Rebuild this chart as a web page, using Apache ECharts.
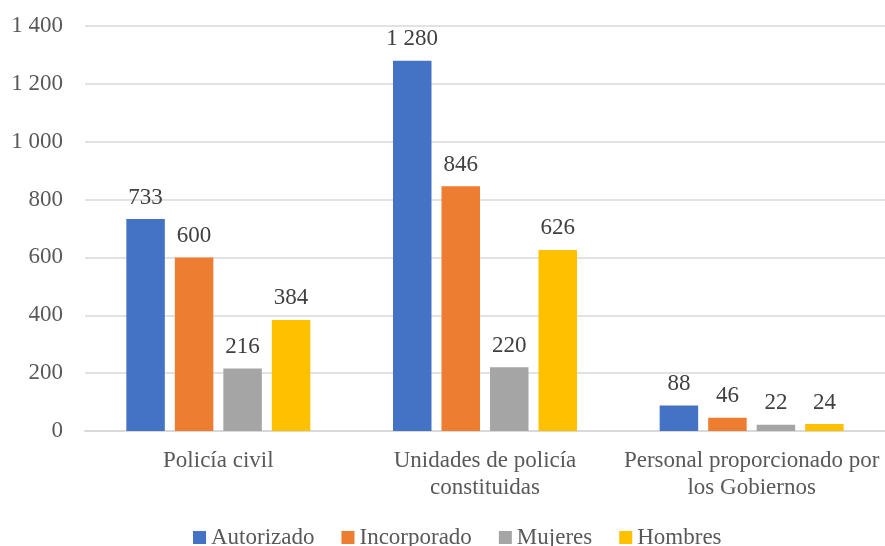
<!DOCTYPE html>
<html><head><meta charset="utf-8">
<script src="https://cdn.jsdelivr.net/npm/echarts@6/dist/echarts.min.js"></script>
<style>html,body{margin:0;padding:0;background:#fff}#c{width:885px;height:546px}</style>
</head><body><div id="c"></div>
<script>
const categories = ['Policía civil', 'Unidades de policía\nconstituidas', 'Personal proporcionado por\nlos Gobiernos'];
const seriesNames = ['Autorizado', 'Incorporado', 'Mujeres', 'Hombres'];
const autorizado = [733, 1280, 88];
const incorporado = [600, 846, 46];
const mujeres = [216, 220, 22];
const hombres = [384, 626, 24];
const colors = ['#4472C4', '#ED7D31', '#A5A5A5', '#FFC000'];
const values = [autorizado, incorporado, mujeres, hombres];
const fmt = v => String(v).replace(/\B(?=(\d{3})+(?!\d))/g, ' ');
const font = 'Liberation Serif';
const chart = echarts.init(document.getElementById('c'));
chart.setOption({
  animation: false,
  textStyle: { fontFamily: font },
  grid: { left: 85, right: 0, top: 26, bottom: 115, containLabel: false },
  legend: {
    bottom: -3, left: 193, padding: 0, itemWidth: 13, itemHeight: 13, itemGap: 27, itemTextGap: 5,
    icon: 'rect',
    textStyle: { fontFamily: font, fontSize: 23, color: '#595959' },
    data: seriesNames
  },
  xAxis: {
    type: 'category', data: categories,
    axisLine: { lineStyle: { color: '#D9D9D9', width: 2 } },
    axisTick: { show: false },
    axisLabel: { fontFamily: font, fontSize: 23, color: '#595959', margin: 16, lineHeight: 27, interval: 0 }
  },
  yAxis: {
    type: 'value', min: 0, max: 1400, interval: 200,
    axisLine: { show: false }, axisTick: { show: false },
    splitLine: { lineStyle: { color: '#D9D9D9', width: 1.5 } },
    axisLabel: { fontFamily: font, fontSize: 23, color: '#595959', margin: 22, formatter: fmt }
  },
  series: seriesNames.map((n, i) => ({
    name: n, type: 'bar', data: values[i],
    itemStyle: { color: colors[i] },
    barGap: '26%', barCategoryGap: '31%',
    label: { show: true, position: 'top', distance: 10, fontFamily: font, fontSize: 23, color: '#404040', formatter: p => fmt(p.value) }
  }))
});
</script></body></html>
